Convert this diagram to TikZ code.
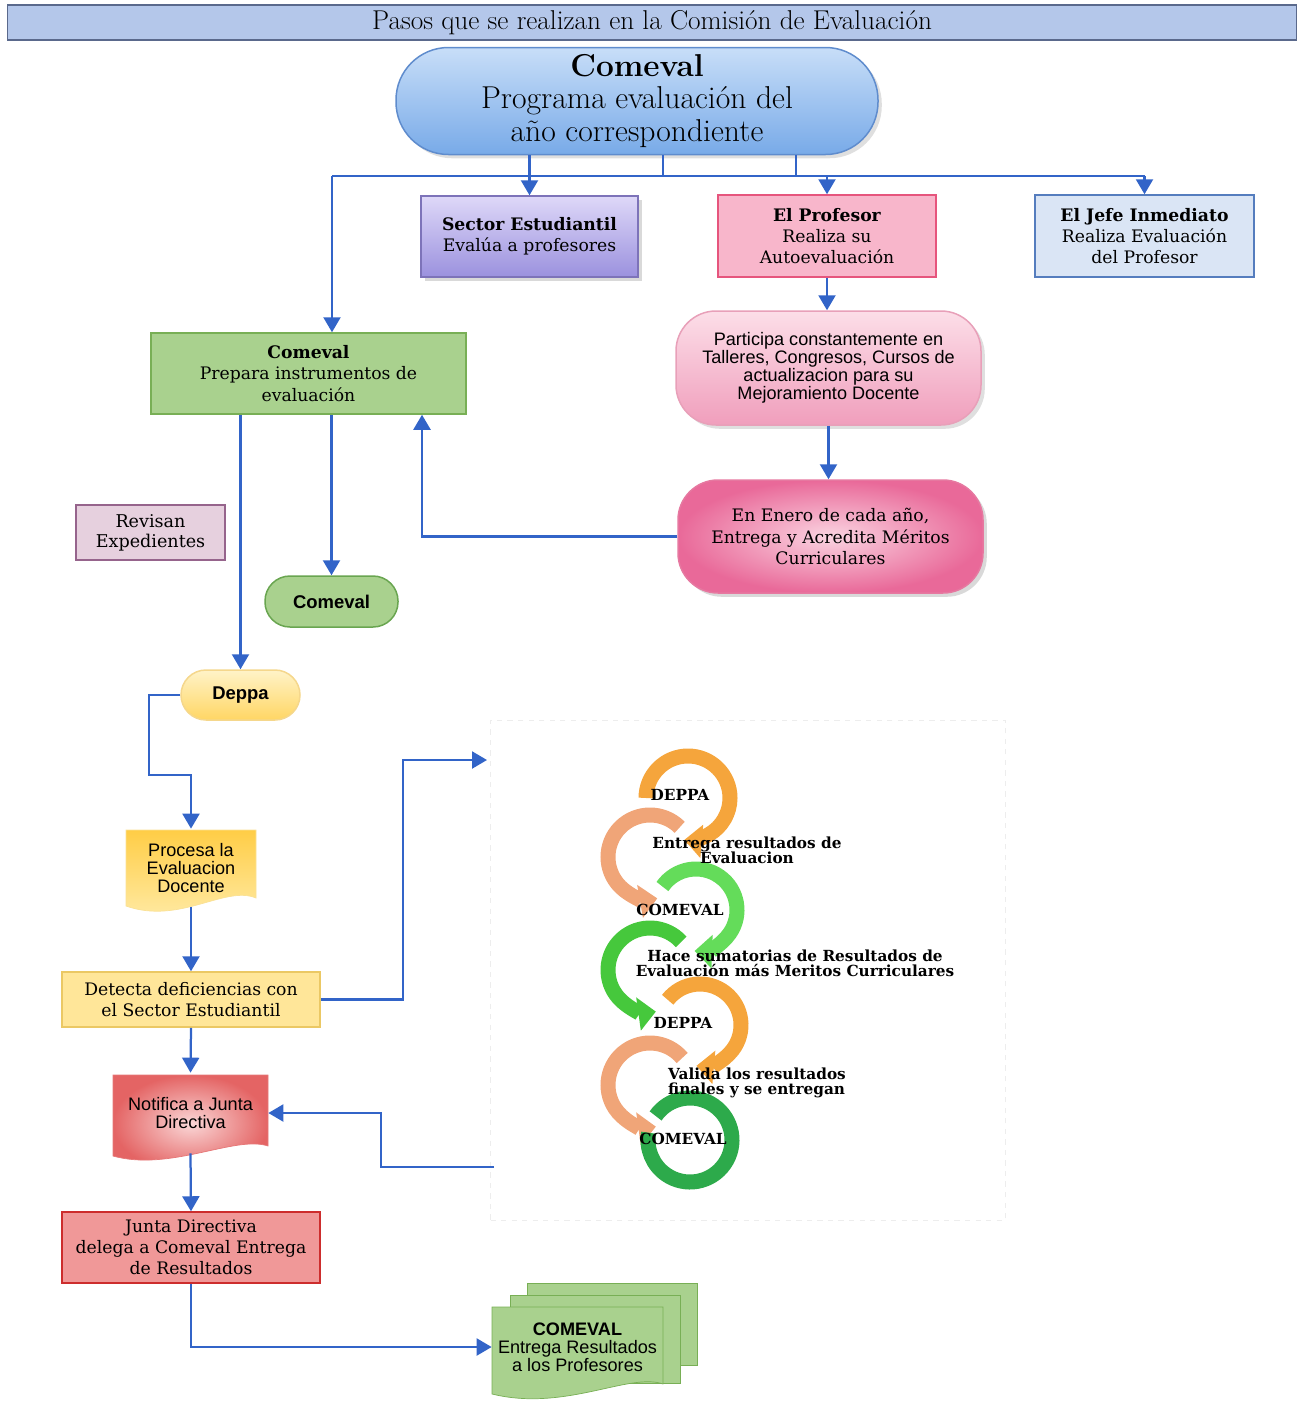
\documentclass[tikz,border=0pt]{standalone}
\usepackage{fontspec}
\newfontfamily\sansf{Liberation Sans}
\newfontfamily\serf{DejaVu Serif}
\usetikzlibrary{arrows.meta}
\usetikzlibrary{shadows}

\definecolor{lineblue}{RGB}{50,100,200}
\definecolor{titlefill}{RGB}{180,199,234}
\definecolor{titledraw}{RGB}{90,105,140}
\definecolor{ringorange}{RGB}{245,165,60}
\definecolor{ringsalmon}{RGB}{240,165,120}
\definecolor{ringlime}{RGB}{100,220,90}
\definecolor{ringgreen}{RGB}{70,200,60}
\definecolor{ringdark}{RGB}{45,170,75}
\definecolor{leaf}{RGB}{169,209,142}
\definecolor{leafdraw}{RGB}{120,175,85}

\begin{document}
\begin{tikzpicture}[x = 0.2mm, y = -0.2mm,
flow/.style = {draw = lineblue, line width = 0.45mm, -{Triangle[width = 3.4mm, length = 3mm]}},
plain/.style = {draw = lineblue, line width = 0.45mm},
box/.style = {shape = rectangle, draw, line width = 0.3mm, align = center, inner sep = 0.5mm, font = \serf\fontsize{9.8}{12}\selectfont},
pill/.style = {shape = rectangle, draw, line width = 0.3mm, align = center, inner sep = 0.5mm},
sbox/.style = {shape = rectangle, align = center, inner sep = 0.5mm, font = \sansf\fontsize{10.3}{10.2}\selectfont},
ring/.style = {line width = 3mm, -{Triangle[width = 6.5mm, length = 3.5mm]}},
ringtext/.style = {align = center, inner sep = 0mm, font = \serf\bfseries\fontsize{8.7}{8.6}\selectfont},
]
\useasboundingbox (0,0) rectangle (1299,1403);

% top of the page
\node[box, fill = titlefill, draw = titledraw, minimum width = 257.8mm, minimum height = 7mm, font = \fontsize{15.5}{16}\selectfont] (title) at (652,22.5) {Pasos que se realizan en la Comisión de Evaluación};
\node[pill, rounded corners = 10.5mm, minimum width = 96.4mm, minimum height = 21.4mm, top color = {rgb,255:red,200;green,222;blue,248}, bottom color = {rgb,255:red,120;green,170;blue,232}, draw = {rgb,255:red,95;green,140;blue,205}, drop shadow = {opacity = 0.25}, font = \fontsize{18}{18.5}\selectfont] (prog) at (637,101) {{\bfseries Comeval}\\Programa evaluación del\\año correspondiente};

% first row
\node[box, minimum width = 43.4mm, minimum height = 16.2mm, top color = {rgb,255:red,222;green,216;blue,248}, bottom color = {rgb,255:red,155;green,145;blue,222}, draw = {rgb,255:red,125;green,115;blue,185}, drop shadow = {opacity = 0.3}] (sec) at (529.5,236.5) {\textbf{Sector Estudiantil}\\Evalúa a profesores};
\node[box, minimum width = 43.6mm, minimum height = 16.4mm, fill = {rgb,255:red,248;green,182;blue,203}, draw = {rgb,255:red,230;green,85;blue,125}] (prof) at (827,236) {\textbf{El Profesor}\\Realiza su\\Autoevaluación};
\node[box, minimum width = 43.8mm, minimum height = 16.4mm, fill = {rgb,255:red,218;green,229;blue,245}, draw = {rgb,255:red,85;green,125;blue,190}] (jefe) at (1144.5,236) {\textbf{El Jefe Inmediato}\\Realiza Evaluación\\del Profesor};

% profesor column
\node[pill, sbox, draw, line width = 0.3mm, rounded corners = 8mm, minimum width = 61mm, minimum height = 22.8mm, top color = {rgb,255:red,252;green,222;blue,232}, bottom color = {rgb,255:red,240;green,158;blue,188}, draw = {rgb,255:red,232;green,160;blue,185}, drop shadow = {opacity = 0.25}] (part) at (828.5,368) {Participa constantemente en\\Talleres, Congresos, Cursos de\\actualizacion para su\\Mejoramiento Docente};
\node[pill, rounded corners = 8mm, minimum width = 61mm, minimum height = 22.6mm, inner color = {rgb,255:red,250;green,212;blue,225}, outer color = {rgb,255:red,233;green,105;blue,153}, draw = {rgb,255:red,230;green,120;blue,160}, drop shadow = {opacity = 0.3}, font = \serf\fontsize{9.8}{12}\selectfont] (ener) at (830.5,536.5) {En Enero de cada año,\\Entrega y Acredita Méritos\\Curriculares};

% comeval column
\node[box, minimum width = 63mm, minimum height = 16.2mm, fill = leaf, draw = leafdraw] (com) at (308.5,373.5) {\textbf{Comeval}\\Prepara instrumentos de\\evaluación};
\node[box, minimum width = 29.8mm, minimum height = 11mm, fill = {rgb,255:red,230;green,208;blue,222}, draw = {rgb,255:red,150;green,100;blue,140}, font = \serf\fontsize{10}{11.5}\selectfont] (rev) at (150.5,532.5) {Revisan\\Expedientes};
\node[pill, rounded corners = 5mm, minimum width = 26.6mm, minimum height = 10.2mm, fill = leaf, draw = {rgb,255:red,105;green,165;blue,80}, font = \sansf\bfseries\fontsize{10.5}{12}\selectfont] (comb) at (331.5,601.5) {Comeval};
\node[pill, rounded corners = 5mm, minimum width = 23.8mm, minimum height = 10mm, top color = {rgb,255:red,255;green,243;blue,200}, bottom color = {rgb,255:red,255;green,214;blue,100}, draw = {rgb,255:red,245;green,215;blue,140}, font = \sansf\bfseries\fontsize{10.5}{12}\selectfont] (deppa) at (240.5,695) {Deppa};

% document shapes
\shade[top color = {rgb,255:red,255;green,205;blue,70}, bottom color = {rgb,255:red,255;green,236;blue,170}, draw = {rgb,255:red,250;green,225;blue,150}] (126,830) -- (256,830) -- (256,898) .. controls (225,885) and (180,925) .. (126,906) -- cycle;
\node[sbox, minimum width = 26mm, minimum height = 15.6mm] (proc) at (191,868) {Procesa la\\Evaluacion\\Docente};
\node[box, minimum width = 51.6mm, minimum height = 11mm, fill = {rgb,255:red,255;green,230;blue,153}, draw = {rgb,255:red,235;green,200;blue,100}] (det) at (191,999.5) {Detecta deficiencias con\\el Sector Estudiantil};
\shade[inner color = {rgb,255:red,250;green,215;blue,215}, outer color = {rgb,255:red,228;green,100;blue,100}, draw = {rgb,255:red,230;green,120;blue,120}] (113,1075) -- (268,1075) -- (268,1146) .. controls (235,1135) and (170,1172) .. (113,1156) -- cycle;
\node[sbox, minimum width = 31mm, minimum height = 16mm] (noti) at (190.5,1113) {Notifica a Junta\\Directiva};
\node[box, minimum width = 51.6mm, minimum height = 14.2mm, fill = {rgb,255:red,240;green,152;blue,152}, draw = {rgb,255:red,205;green,45;blue,45}, font = \serf\fontsize{9.8}{11.8}\selectfont] (junta) at (191,1247.5) {Junta Directiva\\delega a Comeval Entrega\\de Resultados};

% stacked results
\filldraw[fill = leaf, draw = leafdraw] (527,1283) rectangle (697,1365);
\filldraw[fill = leaf, draw = leafdraw] (510,1295) rectangle (680,1383);
\filldraw[fill = leaf, draw = leafdraw] (492,1307) -- (663,1307) -- (663,1384) .. controls (630,1372) and (565,1412) .. (492,1394) -- cycle;
\node[sbox, minimum width = 34.2mm, minimum height = 15.6mm] (res) at (577.5,1347) {\textbf{COMEVAL}\\Entrega Resultados\\a los Profesores};

% cycle panel
\node[draw = black!7, dashed, minimum width = 103mm, minimum height = 100mm] (cyc) at (748,970) {};
\begin{scope}[y = 0.2mm]
\draw[ring, draw = ringorange] (688,-798) ++(180:42) arc[start angle = 180, end angle = -95, radius = 42];
\draw[ring, draw = ringsalmon] (650,-857) ++(45:42) arc[start angle = 45, end angle = 280, radius = 42];
\draw[ring, draw = ringlime] (696,-910) ++(145:41) arc[start angle = 145, end angle = -92, radius = 41];
\draw[ring, draw = ringgreen] (650,-970) ++(42:42) arc[start angle = 42, end angle = 278, radius = 42];
\draw[ring, draw = ringorange] (700,-1025) ++(142:41) arc[start angle = 142, end angle = -95, radius = 41];
\draw[ring, draw = ringsalmon] (650,-1085) ++(40:42) arc[start angle = 40, end angle = 278, radius = 42];
\draw[line width = 3mm, draw = ringdark] (690,-1140) ++(145:42) arc[start angle = 145, end angle = -190, radius = 42];
\end{scope}
\node[ringtext] (c1) at (680,795) {DEPPA};
\node[ringtext] (t1) at (747,850) {Entrega resultados de\\Evaluacion};
\node[ringtext] (c2) at (680,910) {COMEVAL};
\node[ringtext] (t2) at (795,963) {Hace sumatorias de Resultados de\\Evaluación más Meritos Curriculares};
\node[ringtext] (c3) at (683,1023) {DEPPA};
\node[ringtext, align = left] (t3) at (757,1083) {Valida los resultados\\finales y se entregan};
\node[ringtext] (c4) at (683,1139) {COMEVAL};
\coordinate (cin) at (487,760);
\coordinate (cout) at (494,1167);

% connectors
\coordinate (busl) at (332,176);
\coordinate (busr) at (jefe.north |- busl);
\draw[plain] (busl) -- (busr);
\foreach \dx in {26,159} \draw[plain] (prog.south) ++(\dx,0) -- ++(0,22);
\draw[flow] (prog.south -| sec.north) -- (sec.north);
\draw[flow] (prof.north |- busl) -- (prof.north);
\draw[flow] (busr) -- (jefe.north);
\draw[flow] (busl) -- (busl |- com.north);
\draw[flow] (prof.south) -- (prof.south |- part.north);
\draw[flow] (part.south) -- (part.south |- ener.north);
\draw[flow] (ener.west) -| ([xshift = 22.7mm]com.south);
\draw[flow] (deppa.north |- com.south) -- (deppa.north);
\draw[flow] (comb.north |- com.south) -- (comb.north);
\draw[flow] (deppa.west) -- ++(-31,0) -- ++(0,80) -| (proc.north);
\draw[flow] (proc.south) -- (det.north);
\draw[flow] (det.east) -- ++(82,0) |- (cin);
\draw[flow] (det.south) -- (noti.north);
\draw[flow] (cout) -- ++(-113,0) |- (noti.east);
\draw[flow] (noti.south) -- (junta.north);
\draw[flow] (junta.south) |- (res.west);
\end{tikzpicture}
\end{document}
